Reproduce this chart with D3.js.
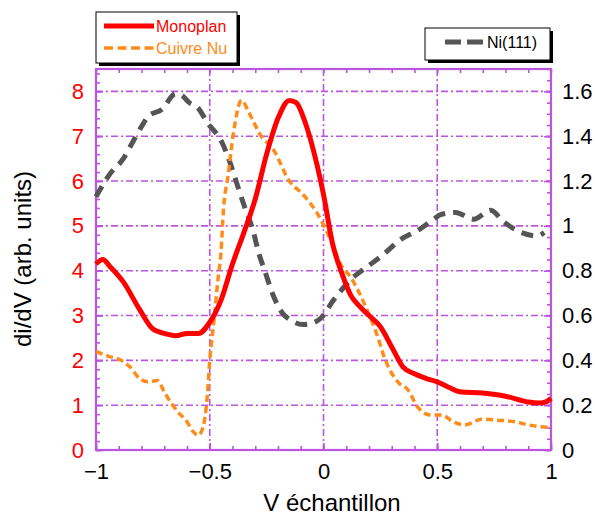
<!DOCTYPE html>
<html><head><meta charset="utf-8">
<script src="https://cdn.jsdelivr.net/npm/d3@7"></script>
<style>
body{margin:0;background:#fff}
svg{display:block}
text{font-family:"Liberation Sans",Arial,Helvetica,sans-serif}
</style>
</head><body>
<svg id="chart" width="595" height="515"></svg>
<script>
// ---- data ----
const monoplanV = [-1.0,-0.97,-0.94,-0.88,-0.81,-0.75,-0.70,-0.65,-0.60,-0.55,-0.50,-0.45,-0.40,-0.35,-0.30,-0.25,-0.20,-0.15,-0.12,-0.08,-0.04,0.0,0.04,0.08,0.12,0.16,0.20,0.25,0.30,0.35,0.40,0.45,0.50,0.55,0.60,0.70,0.80,0.90,0.95,0.98,1.0];
const monoplanY = [4.15,4.25,4.1,3.75,3.15,2.7,2.6,2.55,2.6,2.6,2.85,3.35,4.15,4.85,5.6,6.6,7.4,7.8,7.75,7.3,6.6,5.7,4.6,3.95,3.45,3.2,3.0,2.75,2.3,1.85,1.7,1.6,1.52,1.4,1.3,1.27,1.2,1.07,1.05,1.08,1.15];

const cuivreV = [-1.0,-0.95,-0.89,-0.85,-0.81,-0.77,-0.73,-0.70,-0.67,-0.64,-0.60,-0.575,-0.55,-0.53,-0.51,-0.50,-0.48,-0.465,-0.45,-0.44,-0.42,-0.395,-0.36,-0.33,-0.31,-0.28,-0.22,-0.15,-0.09,-0.03,0.03,0.075,0.12,0.185,0.24,0.265,0.33,0.37,0.415,0.47,0.52,0.57,0.62,0.70,0.75,0.84,0.90,1.0];
const cuivreY = [2.2,2.1,2.0,1.85,1.6,1.52,1.55,1.3,1.05,0.85,0.63,0.42,0.33,0.5,1.25,2.0,2.95,3.75,4.45,5.35,6.1,7.1,7.8,7.55,7.35,7.05,6.7,6.0,5.7,5.3,4.7,4.15,3.85,3.2,2.5,2.1,1.5,1.35,0.95,0.78,0.78,0.63,0.56,0.69,0.67,0.63,0.56,0.5];

const niV = [-1.0,-0.94,-0.88,-0.83,-0.79,-0.77,-0.71,-0.65,-0.62,-0.59,-0.555,-0.51,-0.445,-0.41,-0.375,-0.345,-0.31,-0.285,-0.255,-0.225,-0.18,-0.145,-0.09,-0.045,-0.01,0.045,0.12,0.195,0.26,0.34,0.415,0.485,0.515,0.58,0.66,0.735,0.79,0.87,0.94,0.97];
const niY = [1.13,1.23,1.30,1.39,1.46,1.49,1.52,1.59,1.58,1.55,1.53,1.46,1.37,1.28,1.17,1.08,0.98,0.88,0.79,0.70,0.61,0.58,0.56,0.567,0.59,0.67,0.76,0.82,0.87,0.94,0.98,1.03,1.05,1.06,1.03,1.07,1.02,0.97,0.955,0.97];

const xTicks = [-1,-0.5,0,0.5,1];
const yLeftTicks = [0,1,2,3,4,5,6,7,8];
const yRightTicks = [0,0.2,0.4,0.6,0.8,1,1.2,1.4,1.6];

// ---- layout ----
const L = 96, R = 551, T = 69, B = 450;
const purple = "#bb55dd";
const svg = d3.select("#chart");

const x = d3.scaleLinear().domain([-1, 1]).range([L, R]);
const yL = d3.scaleLinear().domain([0, 8.5]).range([B, T]);
const yR = d3.scaleLinear().domain([0, 1.7]).range([B, T]);

// grid
const grid = svg.append("g").attr("stroke", purple).attr("stroke-width", 1.6)
  .attr("stroke-dasharray", "7,3,2,3").attr("fill", "none");
grid.selectAll("line.h").data(yLeftTicks.filter(d => d > 0)).join("line")
  .attr("x1", L).attr("x2", R).attr("y1", d => yL(d)).attr("y2", d => yL(d));
grid.selectAll("line.v").data([-0.5, 0, 0.5]).join("line")
  .attr("y1", T).attr("y2", B).attr("x1", d => x(d)).attr("x2", d => x(d));

// minor ticks via axes
function styleAxis(g) {
  g.select(".domain").remove();
  g.selectAll("line").attr("stroke", purple).attr("stroke-width", 1.6);
}
const minorX = d3.range(-10, 11).map(d => d / 10);
svg.append("g").attr("transform", `translate(0,${B})`)
  .call(d3.axisBottom(x).tickValues(minorX).tickSize(-4).tickFormat(""))
  .call(styleAxis);
svg.append("g").attr("transform", `translate(0,${T})`)
  .call(d3.axisTop(x).tickValues(minorX).tickSize(-4).tickFormat(""))
  .call(styleAxis);
const minorL = d3.range(0, 43).map(d => d / 5);
svg.append("g").attr("transform", `translate(${L},0)`)
  .call(d3.axisLeft(yL).tickValues(minorL).tickSize(-4).tickFormat(""))
  .call(styleAxis);
const minorR = d3.range(0, 35).map(d => d / 20);
svg.append("g").attr("transform", `translate(${R},0)`)
  .call(d3.axisRight(yR).tickValues(minorR).tickSize(-4).tickFormat(""))
  .call(styleAxis);

// major axes with labels
const xAx = svg.append("g").attr("transform", `translate(0,${B})`)
  .call(d3.axisBottom(x).tickValues(xTicks).tickSize(-7).tickFormat(d3.format("")))
  .call(styleAxis);
xAx.selectAll("text").attr("y", 29).attr("dy", null).attr("fill", "#000")
  .attr("font-size", 22).attr("font-family", '"Liberation Sans",Arial,sans-serif');

const yLAx = svg.append("g").attr("transform", `translate(${L},0)`)
  .call(d3.axisLeft(yL).tickValues(yLeftTicks).tickSize(-7))
  .call(styleAxis);
yLAx.selectAll("text").attr("x", -12).attr("fill", "#ff0000")
  .attr("font-size", 22).attr("font-family", '"Liberation Sans",Arial,sans-serif');

const yRAx = svg.append("g").attr("transform", `translate(${R},0)`)
  .call(d3.axisRight(yR).tickValues(yRightTicks).tickSize(-7).tickFormat(d3.format("")))
  .call(styleAxis);
yRAx.selectAll("text").attr("x", 11).attr("fill", "#000")
  .attr("font-size", 22).attr("font-family", '"Liberation Sans",Arial,sans-serif');

// frame
svg.append("rect").attr("x", L).attr("y", T).attr("width", R - L).attr("height", B - T)
  .attr("fill", "none").attr("stroke", purple).attr("stroke-width", 2.2);

// series
const curve = d3.curveMonotoneX;
const lineL = d3.line().x(d => x(d[0])).y(d => yL(d[1])).curve(curve);
const lineR = d3.line().x(d => x(d[0])).y(d => yR(d[1])).curve(curve);
const zip = (a, b) => a.map((v, i) => [v, b[i]]);

svg.append("path").datum(zip(niV, niY)).attr("d", lineR)
  .attr("fill", "none").attr("stroke", "#555555").attr("stroke-width", 5)
  .attr("stroke-dasharray", "12,8");
svg.append("path").datum(zip(cuivreV, cuivreY)).attr("d", lineL)
  .attr("fill", "none").attr("stroke", "#ff8c1a").attr("stroke-width", 3.5)
  .attr("stroke-dasharray", "7,4");
svg.append("path").datum(zip(monoplanV, monoplanY)).attr("d", lineL)
  .attr("fill", "none").attr("stroke", "#ff0000").attr("stroke-width", 5)
  .attr("stroke-linejoin", "round");

// axis titles
svg.append("text").attr("x", 332).attr("y", 511).attr("text-anchor", "middle")
  .attr("font-size", 24).attr("fill", "#000").text("V échantillon");
svg.append("text").attr("transform", "translate(31,259) rotate(-90)")
  .attr("text-anchor", "middle").attr("font-size", 24).attr("fill", "#000")
  .text("di/dV (arb. units)");

// legends
function box(x0, y0, w, h) {
  svg.append("rect").attr("x", x0 + 3).attr("y", y0 + 3).attr("width", w).attr("height", h).attr("fill", "#000");
  svg.append("rect").attr("x", x0).attr("y", y0).attr("width", w).attr("height", h)
    .attr("fill", "#fff").attr("stroke", "#000").attr("stroke-width", 1);
}
box(96, 12, 141, 51);
svg.append("line").attr("x1", 104).attr("x2", 154).attr("y1", 26).attr("y2", 26)
  .attr("stroke", "#ff0000").attr("stroke-width", 5);
svg.append("text").attr("x", 156).attr("y", 32).attr("font-size", 16).attr("fill", "#ff0000").text("Monoplan");
svg.append("line").attr("x1", 104).attr("x2", 154).attr("y1", 48).attr("y2", 48)
  .attr("stroke", "#ff8c1a").attr("stroke-width", 3.5).attr("stroke-dasharray", "9,4.5");
svg.append("text").attr("x", 156).attr("y", 54).attr("font-size", 16).attr("fill", "#ff8c1a").text("Cuivre Nu");

box(425, 28, 125, 32);
svg.append("line").attr("x1", 445).attr("x2", 483).attr("y1", 42).attr("y2", 42)
  .attr("stroke", "#555555").attr("stroke-width", 5).attr("stroke-dasharray", "16,6");
svg.append("text").attr("x", 487).attr("y", 48).attr("font-size", 16).attr("fill", "#000").text("Ni(111)");
</script>
</body></html>
